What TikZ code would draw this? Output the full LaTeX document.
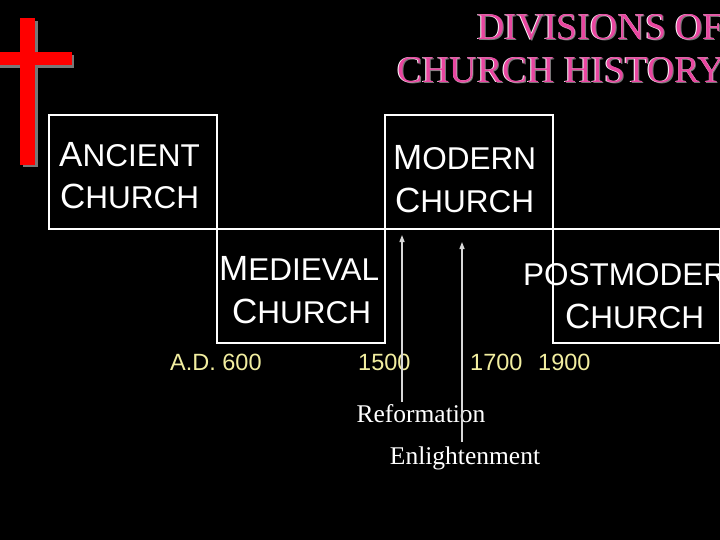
\documentclass[tikz,border=0pt]{standalone}
\usepackage{fontspec}
\setmainfont{Liberation Serif}
\setsansfont{Liberation Sans}
\usetikzlibrary{arrows.meta}
\definecolor{titlepink}{RGB}{232,70,160}
\definecolor{yearyellow}{RGB}{242,238,160}
\definecolor{arrowgray}{RGB}{215,215,215}
\definecolor{crossred}{RGB}{255,0,0}
\definecolor{shadowgray}{RGB}{120,120,120}
\newcommand{\BigL}[1]{{\fontsize{35}{42}\selectfont #1}}
\newcommand{\SmL}[1]{{\fontsize{31.5}{42}\selectfont #1}}
\begin{document}
\begin{tikzpicture}[x=1pt,y=-1pt,
  periodbox/.style={draw=white, line width=2pt, inner sep=0pt, anchor=north west,
    minimum width=168pt, minimum height=114pt},
  boxtext/.style={text=white, font=\sffamily, inner sep=0pt, anchor=base west},
  yeartext/.style={text=yearyellow, font=\sffamily\fontsize{23.5}{28}\selectfont, inner sep=0pt, anchor=base west},
  eventtext/.style={text=white, font=\rmfamily\fontsize{25.5}{30}\selectfont, inner sep=0pt, anchor=base},
  titletext/.style={font=\rmfamily\fontsize{37.8}{44}\selectfont, inner sep=0pt, anchor=base west},
  eventarrow/.style={draw=arrowgray, line width=1.3pt, -{Triangle[width=5pt,length=7pt]}}
  ]
\fill[black] (0,0) rectangle (720,540);
\useasboundingbox (0,0) rectangle (720,540);

% cross with shadow
\fill[shadowgray] (23,21) rectangle (38,167);
\fill[shadowgray] (0,55) rectangle (74,68);
\fill[crossred] (20,18) rectangle (35,165);
\fill[crossred] (0,52) rectangle (72,65);

% title
\node[titletext, text=shadowgray] (t1s) at (478,41) {DIVISIONS OF};
\node[titletext, text=white] (t1h) at (476.3,39.3) {DIVISIONS OF};
\node[titletext, text=titlepink] (t1) at (477,40) {DIVISIONS OF};
\node[titletext, text=shadowgray] (t2s) at (398,84) {CHURCH HISTORY};
\node[titletext, text=white] (t2h) at (396.3,82.3) {CHURCH HISTORY};
\node[titletext, text=titlepink] (t2) at (397,83) {CHURCH HISTORY};

% boxes
\node[periodbox] (ancient) at (48,114) {};
\node[periodbox] (medieval) at (216,228) {};
\node[periodbox] (modern) at (384,114) {};
\node[periodbox, minimum width=167pt] (postmodern) at (552,228) {};

% box texts
\node[boxtext] (an1) at (59,167) {\BigL{A}\SmL{NCIENT}};
\node[boxtext] (an2) at (60,209) {\BigL{C}\SmL{HURCH}};
\node[boxtext] (me1) at (219,280) {\BigL{M}\SmL{EDIEVAL}};
\node[boxtext] (me2) at (232,323) {\BigL{C}\SmL{HURCH}};
\node[boxtext] (mo1) at (393,170) {\BigL{M}\SmL{ODERN}};
\node[boxtext] (mo2) at (395,213) {\BigL{C}\SmL{HURCH}};
\node[boxtext] (po1) at (523,285) {\SmL{POSTMODERN}};
\node[boxtext] (po2) at (565,328) {\BigL{C}\SmL{HURCH}};

% years
\node[yeartext] (y600) at (170,370) {A.D. 600};
\node[yeartext] (y1500) at (358,370) {1500};
\node[yeartext] (y1700) at (470,370) {1700};
\node[yeartext] (y1900) at (538,370) {1900};

% events
\node[eventtext] (reform) at (421,422) {Reformation};
\node[eventtext] (enlight) at (465,464) {Enlightenment};
\coordinate (reformtop) at (402,235);
\coordinate (reformbot) at (402,402);
\coordinate (enltop) at (462,242);
\coordinate (enlbot) at (462,442);
\draw[eventarrow] (reformbot) -- (reformtop);
\draw[eventarrow] (enlbot) -- (enltop);
\end{tikzpicture}
\end{document}
